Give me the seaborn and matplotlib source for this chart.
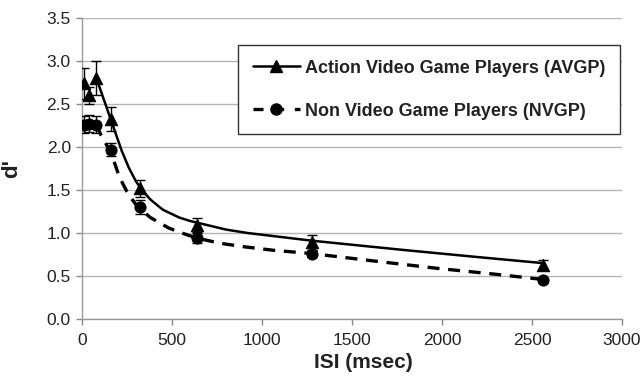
import matplotlib
matplotlib.use("Agg")
import matplotlib.pyplot as plt
from matplotlib.lines import Line2D
import seaborn as sns
import pandas as pd

# Measured data points
isi = [10, 40, 80, 160, 320, 640, 1280, 2560]
avgp = [2.74, 2.60, 2.80, 2.33, 1.52, 1.09, 0.89, 0.63]
avgp_err = [0.18, 0.10, 0.20, 0.14, 0.10, 0.08, 0.09, 0.06]
nvgp = [2.26, 2.27, 2.26, 1.97, 1.30, 0.94, 0.76, 0.45]
nvgp_err = [0.10, 0.10, 0.10, 0.08, 0.08, 0.06, 0.04, 0.03]

# Fitted curves
avgp_fit_x = [80, 100, 120, 140, 160, 180, 200, 220, 240, 260, 280, 300, 320, 350, 380, 420,
              450, 500, 540, 600, 640, 720, 800, 920, 1040, 1280, 1800, 2200, 2560]
avgp_fit_y = [2.80, 2.68, 2.56, 2.44, 2.32, 2.20, 2.08, 1.96, 1.86, 1.76, 1.68, 1.60, 1.54,
              1.46, 1.39, 1.32, 1.27, 1.22, 1.18, 1.14, 1.12, 1.08, 1.04, 1.00, 0.97, 0.91,
              0.80, 0.72, 0.65]
nvgp_fit_x = [80, 105, 130, 160, 180, 200, 225, 250, 275, 300, 340, 380, 430, 480, 540, 640,
              770, 900, 1060, 1280, 1600, 1970, 2300, 2560]
nvgp_fit_y = [2.26, 2.14, 2.05, 1.93, 1.82, 1.70, 1.58, 1.48, 1.40, 1.33, 1.25, 1.18, 1.12,
              1.06, 1.01, 0.94, 0.88, 0.84, 0.80, 0.76, 0.68, 0.59, 0.52, 0.46]

labels = ["Action Video Game Players (AVGP)", "Non Video Game Players (NVGP)"]
x_ticks = [0, 500, 1000, 1500, 2000, 2500, 3000]
y_ticks = [0.0, 0.5, 1.0, 1.5, 2.0, 2.5, 3.0, 3.5]

sns.set_style("white")
plt.rcParams["font.family"] = ["Liberation Sans", "DejaVu Sans"]

fig = plt.figure(figsize=(6.43, 3.81), dpi=100)
ax = fig.add_axes([0.1275, 0.1627, 0.9673 - 0.1275, 0.9528 - 0.1627])

fit_a = pd.DataFrame({"x": avgp_fit_x, "y": avgp_fit_y})
fit_n = pd.DataFrame({"x": nvgp_fit_x, "y": nvgp_fit_y})
sns.lineplot(data=fit_a, x="x", y="y", ax=ax, color="black", lw=1.8, sort=True)
sns.lineplot(data=fit_n, x="x", y="y", ax=ax, color="black", lw=2.4,
             linestyle=(0, (3.6, 2.6)), sort=True)

ax.errorbar(isi, avgp, yerr=avgp_err, fmt="none", ecolor="black", elinewidth=1,
            capsize=3.5, capthick=1, zorder=3)
ax.errorbar(isi, nvgp, yerr=nvgp_err, fmt="none", ecolor="black", elinewidth=1,
            capsize=3.5, capthick=1, zorder=3)
pts_a = pd.DataFrame({"x": isi, "y": avgp})
pts_n = pd.DataFrame({"x": isi, "y": nvgp})
sns.scatterplot(data=pts_a, x="x", y="y", ax=ax, marker="^", s=80, color="black",
                edgecolor="black", zorder=4)
sns.scatterplot(data=pts_n, x="x", y="y", ax=ax, marker="o", s=65, color="black",
                edgecolor="black", zorder=4)

ax.set_xlim(0, 3000)
ax.set_ylim(0, 3.5)
ax.set_xticks(x_ticks)
ax.set_yticks(y_ticks)
ax.set_yticklabels([f"{v:.1f}" for v in y_ticks])
ax.tick_params(axis="both", labelsize=12.5, colors="#888888", length=4, width=1,
               labelcolor="#222222", direction="out")
ax.tick_params(axis="x", pad=6)
ax.tick_params(axis="y", pad=4)
ax.tick_params(axis="both", which="both", bottom=True, left=True)
ax.yaxis.grid(True, color="#b5b5b5", lw=1)
ax.xaxis.grid(False)
for s in ["top", "right"]:
    ax.spines[s].set_visible(False)
for s in ["left", "bottom"]:
    ax.spines[s].set_color("#999999")
    ax.spines[s].set_linewidth(1)

ax.set_xlabel("ISI (msec)", fontsize=15, fontweight="bold", color="#222222")
ax.xaxis.set_label_coords(0.522, -0.113)
ax.set_ylabel("d'", fontsize=16, fontweight="bold", color="#222222")
ax.yaxis.set_label_coords(-0.110, 0.5)

handles = [
    Line2D([0], [0], color="black", lw=1.8, marker="^", markersize=9),
    Line2D([0], [0], color="black", lw=2.4, linestyle=(0, (3, 3.2)), marker="o", markersize=8),
]
leg = ax.legend(handles, labels, loc="upper right", bbox_to_anchor=(0.9963, 0.91),
                borderaxespad=0, frameon=True, fancybox=False, framealpha=1,
                edgecolor="#333333", prop={"weight": "bold", "size": 13},
                handlelength=2.6, borderpad=0.8, labelspacing=1.45, handletextpad=0.3)
leg.get_frame().set_linewidth(1)
for t in leg.get_texts():
    t.set_color("#222222")

fig.savefig("out.png", dpi=100)
